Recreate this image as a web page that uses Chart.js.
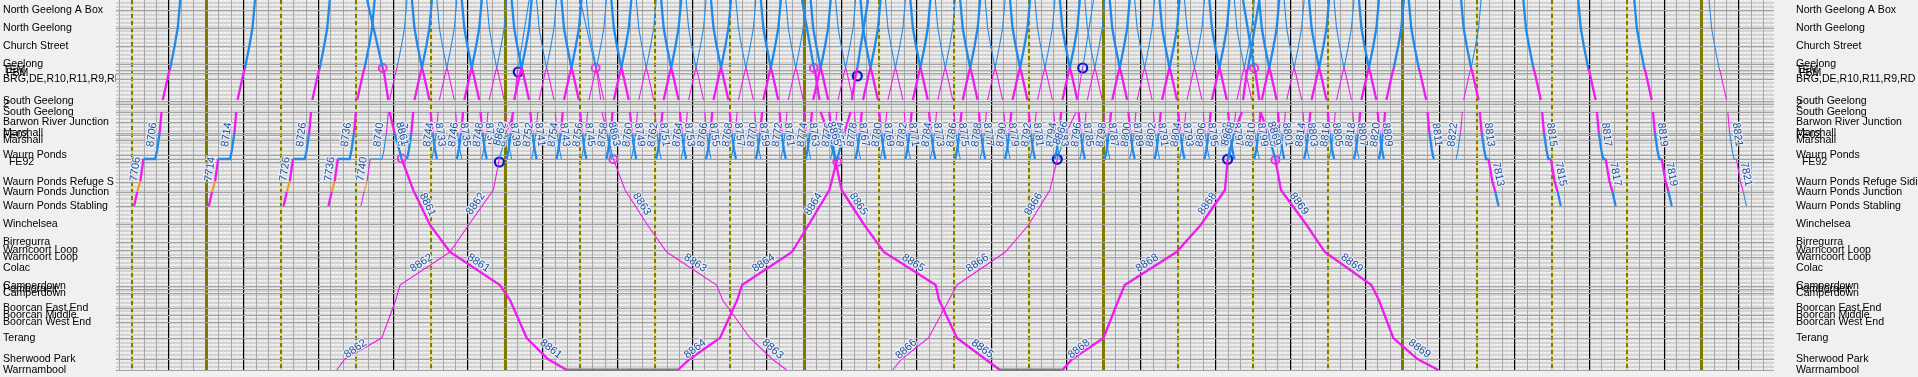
<!DOCTYPE html>
<html><head><meta charset="utf-8">
<script src="https://cdn.jsdelivr.net/npm/chart.js@4.4.1/dist/chart.umd.min.js"></script>
<style>
html,body{margin:0;padding:0;background:#f0f0f0;overflow:hidden;}
canvas{display:block;}
</style></head>
<body>
<canvas id="c" width="1918" height="377"></canvas>
<script>
// ---------------- stations (distance units along the line, top = North Geelong A Box) -------------
const stationNames = ['North Geelong A Box','North Geelong','Church Street','Geelong','TEM',' FBM',
  'BRG,DE,R10,R11,R9,RD','South Geelong','2','South Geelong','Barwon River Junction','Marshall','FE02',
  'Marshall','Waurn Ponds','','  FE92','Waurn Ponds Refuge Siding','Waurn Ponds Junction','Waurn Ponds Stabling',
  'Winchelsea','Birregurra','Warncoort Loop','Warncoort Loop','Colac','Camperdown','Pomborneit','Camperdown',
  'Boorcan East End','Boorcan Middle','Boorcan West End','Terang','Sherwood Park','Warrnambool'];
const stationDist = [10,28,46,64,70,73,79,101,104,112,122,133,135,140,155,159,162,182,192,206,
  224,242,250,257,268,286,289,293,308,315,322,338,359,370];

// ---------------- suburban run profiles (minutes relative to Geelong, distance) -----------------
const upRunMin  = [-12, -10.5, -9.5, -8.5, -7, -6.5, -6, -1, 0, 3.5, 6, 8];
const upRunPos  = [159, 150, 141, 133, 112, null, 100, 72, 68, 46, 28, 0];
const upStablingMin = [-29, -26.5, -24, -21.5];
const upStablingPos = [206, 192, 181, 159];
const downRunMin = [-8, -6, -3.5, 0, 1, 6, 6.5, 7, 8.5, 9.5, 10.5, 12];
const downRunPos = [0, 28, 46, 68, 72, 100, null, 112, 133, 141, 150, 159];
const downStablingMin = [14, 17, 19.5, 22];
const downStablingPos = [159, 181, 192, 206];

// ---------------- suburban up trains (number, time at Geelong, T=thick) ------------------------
const upNos = ['8706','8714','8726','8736','8740',
  '8742','8744','8746','8748','8750','8752','8754','8756','8758','8760','8762','8764','8766','8768',
  '8770','8772','8774','8776','8778','8780','8782','8784','8786','8788','8790','8792','8794','8796',
  '8798','8800','8802','8804','8806','8808','8810','8812','8814','8816','8818','8820','8822'];
const upGeelong = ['05:01','06:01','07:01','07:37','08:03',
  '08:23','08:43','09:03','09:23','09:43','10:03','10:23','10:43','11:03','11:23','11:43','12:03',
  '12:23','12:43','13:03','13:23','13:43','14:03','14:23','14:43','15:03','15:23','15:43','16:03',
  '16:23','16:43','17:03','17:23','17:43','18:03','18:23','18:43','19:03','19:23','19:43','20:03',
  '20:23','20:43','21:03','21:23','22:25'];
const upWeight = 'TTTTtTtTtTtTtTtTtTtTtTtTtTtTtTtTtTtTtTtTtTtTT';
const upFromStabling = ['7706','7714','7726','7736','7740'];

// ---------------- suburban down trains -----------------------------------------------------------
const downNos = ['8733','8735','8737','8739','8741','8743','8745','8747','8749','8751','8753','8755',
  '8757','8759','8761','8763','8765','8767','8769','8771','8773','8775','8777','8779','8781','8783',
  '8785','8787','8789','8791','8793','8795','8797','8799','8801','8803','8805','8807','8809','8811',
  '8813','8815','8817','8819','8821'];
const downGeelong = ['08:23','08:43','09:03','09:23','09:43','10:03','10:23','10:43','11:03','11:23',
  '11:43','12:03','12:23','12:43','13:03','13:23','13:43','14:03','14:23','14:43','15:03','15:23',
  '15:43','16:03','16:23','16:43','17:03','17:23','17:43','18:03','18:23','18:43','19:03','19:23',
  '19:43','20:03','20:23','20:43','21:03','21:43','22:25','23:15','23:59','24:44','25:44'];
const downWeight = 'TtTtTtTtTtTtTtTtTtTtTtTtTtTtTtTtTtTtTtTTTTTT';
const downToStabling = {'8813':'7813','8815':'7815','8817':'7817','8819':'7819','8821':'7821'};

// ---------------- V/Line Warrnambool trains (minutes after midnight at each waypoint) ----------
const ldPos = [0, 68, 72, 100, null, 112, 133, 159, 190, 225, 252, 285, 300, 338, 359, 370];
const ldNos = ['8861','8862','8863','8864','8865','8866','8868','8869'];
const ldThick = [true, false, false, true, true, false, true, true];
const ld8861 = [459, 471.5, 472.5, 476, 476.5, 477, 481, 486.8, 496, 509.5, 525.5, 565.6, 573.7, 587.1, 604, 619.2];
const ld8862 = [589, 580.3, 579.5, 577.5, 577, 576.5, 571, 565.1, 560.3, 540.5, 525.5, 485.4, 482, 470.7, 441.2, 434.6];
const ld8863 = [630, 642.4, 643.4, 646.5, 647, 647.5, 651.5, 656.6, 666, 684, 699.4, 739.5, 744.3, 766.3, 784, 795.7];
const ld8864 = [861, 852.4, 851.5, 848, 847.5, 847, 842, 836.3, 830, 813.3, 800, 759.9, 756, 742.2, 718, 708.5];
const ld8865 = [808, 817.6, 818.6, 822, 822.5, 823, 829, 834.5, 839.8, 858, 873.7, 915.3, 918, 932.4, 955, 966.9];
const ld8866 = [1042, 1033.3, 1032.5, 1029, 1028.5, 1028, 1020, 1012.9, 1007, 989.8, 971.2, 932.4, 926, 909.5, 888, 880.8];
const ld8868 = [1175, 1166, 1165, 1162, 1161.5, 1161, 1155, 1149.6, 1147.5, 1128, 1108.6, 1067, 1062, 1050, 1025, 1017];
const ld8869 = [1162, 1170.9, 1171.9, 1175, 1175.5, 1176, 1182, 1187.9, 1192.4, 1213, 1227.6, 1265, 1271, 1282.6, 1302, 1318.7];
const ldTimes = [ld8861, ld8862, ld8863, ld8864, ld8865, ld8866, ld8868, ld8869];
// consists stabled at Warrnambool [arrive, depart]
const stabledWarrnambool = [[619.2, 708.5], [966.9, 1017]];

// ---------------- marker circles [time, distance] ------------------------------------------
const pinkMarks = [[471.5,68],[486.8,158.5],[642.4,68],[656.6,159.3],[817.6,68],[836.3,162],[1170.9,68],[1187.9,160]];
const blueMarks = [[580.3,72],[565.1,162],[852.4,76],[1012.9,159.3],[1033.3,68],[1149.6,159.3]];

// =====================================================================================
const BLUE = '#2389e8', MAG = '#ee1cee', ORANGE = '#f39a35', GREY = '#7d7d7d';
const tm = s => { const [h, m] = s.split(':').map(Number); return h * 60 + m; };

function colorAt(y, dir) {
  if (y < 68) return BLUE;
  if (y < 137) return MAG;
  if (y < 159.5) return BLUE;
  if (y <= 206.5) {
    if (dir === 'up') { if (y < 181) return MAG; if (y < 192) return ORANGE; return MAG; }
    if (dir === 'down') { if (y < 192) return MAG; return BLUE; }
  }
  return MAG;
}
function trainDataset(points, dir, thick, labels) {
  return {
    type: 'line', data: points, dir: dir, borderWidth: thick ? 2.3 : 1.1, borderColor: MAG,
    pointRadius: 0, pointHoverRadius: 0, tension: 0, spanGaps: false, fill: false,
    segment: { borderColor: c => colorAt((c.p0.parsed.y + c.p1.parsed.y) / 2, dir) },
    trainLabels: labels
  };
}
function pts(times, positions) {
  return positions.map((p, i) => ({ x: times[i], y: p }));
}
const datasets = [];

// grey stabled consists
stabledWarrnambool.forEach(([a, b]) => datasets.push({ type: 'line', data: [{x: a, y: 370}, {x: b, y: 370}],
  borderColor: GREY, borderWidth: 3, pointRadius: 0, fill: false }));

// up suburban
upNos.forEach((no, i) => {
  const g = tm(upGeelong[i]);
  const thick = upWeight[i] === 'T';
  let times = upRunMin.map(o => g + o), pos = upRunPos.slice();
  const labels = [];
  const st = upFromStabling[i];
  if (st) {
    times = upStablingMin.map(o => g + o).concat(times);
    pos = upStablingPos.concat(pos);
    labels.push([2, 3, st]);
    labels.push([4, 8, no]);
  } else {
    labels.push([0, 4, no]);
  }
  datasets.push(trainDataset(pts(times, pos), 'up', thick, labels));
});
// down suburban
downNos.forEach((no, i) => {
  const g = tm(downGeelong[i]);
  const thick = downWeight[i] === 'T';
  let times = downRunMin.map(o => g + o), pos = downRunPos.slice();
  const labels = [[7, 11, no]];
  const st = downToStabling[no];
  if (st) {
    times = times.concat(downStablingMin.map(o => g + o));
    pos = pos.concat(downStablingPos);
    labels.push([12, 14, st]);
  }
  datasets.push(trainDataset(pts(times, pos), 'down', thick, labels));
});
// Warrnambool line
ldNos.forEach((no, i) => {
  const t = ldTimes[i];
  const dir = t[0] < t[15] ? 'down' : 'up';
  datasets.push(trainDataset(pts(t, ldPos), dir, ldThick[i],
    [[5, 7, no], [8, 9, no], [10, 11, no], [13, 15, no]]));
});
// markers
datasets.push({ type: 'line', showLine: false, data: pinkMarks.map(([x, y]) => ({x, y})), pointRadius: 4,
  pointBorderWidth: 2, pointBorderColor: '#e33ee3', pointBackgroundColor: 'rgba(0,0,0,0)' });
datasets.push({ type: 'line', showLine: false, data: blueMarks.map(([x, y]) => ({x, y})), pointRadius: 4.5,
  pointBorderWidth: 2.2, pointBorderColor: '#1414c8', pointBackgroundColor: 'rgba(0,0,0,0)' });

// ---------------- plugins -------------------------------------------------------------------
const bgPlugin = {
  id: 'bg',
  beforeDraw(chart) {
    const {ctx, chartArea: a} = chart;
    const pc = document.createElement('canvas'); pc.width = 4; pc.height = 4;
    const p = pc.getContext('2d');
    p.fillStyle = '#e9e9e9'; p.fillRect(0, 0, 4, 4);
    p.fillStyle = '#d3d3d3'; p.fillRect(0, 2, 4, 2);
    p.fillStyle = '#f4f4f4'; p.fillRect(0, 0, 2, 1);
    ctx.save(); ctx.fillStyle = ctx.createPattern(pc, 'repeat');
    ctx.fillRect(a.left, a.top, a.right - a.left, a.bottom - a.top); ctx.restore();
  }
};
const labelPlugin = {
  id: 'trainLabels',
  afterDatasetsDraw(chart) {
    const {ctx, chartArea: a} = chart;
    ctx.save();
    ctx.beginPath(); ctx.rect(a.left, a.top, a.right - a.left, a.bottom - a.top); ctx.clip();
    ctx.font = '11px "Liberation Sans", Arial, sans-serif';
    ctx.textAlign = 'center'; ctx.textBaseline = 'bottom';
    chart.data.datasets.forEach((ds, di) => {
      if (!ds.trainLabels) return;
      const meta = chart.getDatasetMeta(di);
      ds.trainLabels.forEach(([i, j, text]) => {
        const p = meta.data[i], q = meta.data[j];
        if (!p || !q || isNaN(p.y) || isNaN(q.y)) return;
        let ang = Math.atan2(q.y - p.y, q.x - p.x);
        if (ang > Math.PI / 2) ang -= Math.PI;
        if (ang < -Math.PI / 2) ang += Math.PI;
        ctx.save();
        ctx.translate((p.x + q.x) / 2, (p.y + q.y) / 2);
        ctx.rotate(ang);
        ctx.lineWidth = 2.5; ctx.strokeStyle = 'rgba(235,240,250,0.85)';
        ctx.strokeText(text, 0, -1);
        ctx.fillStyle = '#1f4f93';
        ctx.fillText(text, 0, -1);
        ctx.restore();
      });
    });
    ctx.restore();
  }
};

// ---------------- axes ----------------------------------------------------------------------
const FONT = {family: '"Liberation Sans", Arial, sans-serif', size: 10.6};
const mctx = document.createElement('canvas').getContext('2d');
mctx.font = '10.6px "Liberation Sans", Arial, sans-serif';
function clipText(s, w) { while (s.length && mctx.measureText(s).width > w) s = s.slice(0, -1); return s; }
const isSolidHalf = v => v % 30 === 0 && v % 60 !== 0 && (v - 330) % 240 === 0;
const tickVal = c => (c && c.tick) ? c.tick.value : null;

const stationTicks = s => { s.ticks = stationDist.map(v => ({value: v})); };

new Chart(document.getElementById('c'), {
  type: 'line',
  data: { datasets },
  options: {
    responsive: false, animation: false, events: [],
    layout: { autoPadding: false, padding: {left: 3, right: 0, top: 0, bottom: 6} },
    plugins: { legend: {display: false}, tooltip: {enabled: false} },
    scales: {
      x2: {
        type: 'linear', min: 257.465, max: 1588.1, display: true,
        afterBuildTicks: s => { const t = []; for (let v = 270; v <= 1580; v += 60) t.push({value: v}); s.ticks = t; },
        afterFit: s => { s.height = 0; s.paddingLeft = 0; s.paddingRight = 0; },
        ticks: {display: false}, border: {display: false},
        grid: { drawTicks: false, z: -1, color: '#d9d56a', lineWidth: c => isSolidHalf(tickVal(c)) ? 0 : 2.2 }
      },
      x: {
        type: 'linear', min: 257.465, max: 1588.1, display: true,
        afterBuildTicks: s => { const t = []; for (let v = 260; v <= 1580; v += 10) t.push({value: v}); s.ticks = t; },
        afterFit: s => { s.height = 0; s.paddingLeft = 0; s.paddingRight = 0; },
        ticks: {display: false},
        border: { display: false,
          dash: c => { const v = tickVal(c); return (v != null && v % 30 === 0 && v % 60 !== 0 && !isSolidHalf(v)) ? [4, 3] : []; } },
        grid: { drawTicks: false,
          color: c => { const v = tickVal(c); if (v == null) return 'rgba(0,0,0,0)';
            if (v % 60 === 0) return '#000000'; if (v % 30 === 0) return '#7d7b00'; return '#a6a6a6'; },
          lineWidth: c => { const v = tickVal(c); if (v == null) return 0;
            if (v % 60 === 0) return 1.2; if (v % 30 === 0) return isSolidHalf(v) ? 3 : 2; return 1; } }
      },
      y: {
        type: 'linear', position: 'left', reverse: true, min: 0, max: 371,
        afterBuildTicks: stationTicks,
        afterFit: s => { s.width = 113; s.paddingTop = 0; s.paddingBottom = 0; },
        ticks: { autoSkip: false, crossAlign: 'far', padding: 0, color: '#000', font: FONT,
          callback: (v, i) => { const n = stationNames[i] || ''; return clipText(n, n.startsWith('BRG') ? 122 : 112); } },
        grid: { drawTicks: false, color: '#a3a3a3', lineWidth: 1 },
        border: { display: false }
      },
      y2: {
        type: 'linear', position: 'right', reverse: true, min: 0, max: 371,
        afterBuildTicks: stationTicks,
        afterFit: s => { s.width = 144; s.paddingTop = 0; s.paddingBottom = 0; },
        ticks: { autoSkip: false, crossAlign: 'near', padding: 22, color: '#000', font: FONT,
          callback: (v, i) => stationNames[i] || '' },
        grid: { display: false, drawTicks: false },
        border: { display: false }
      }
    }
  },
  plugins: [bgPlugin, labelPlugin]
});
</script>
</body></html>
